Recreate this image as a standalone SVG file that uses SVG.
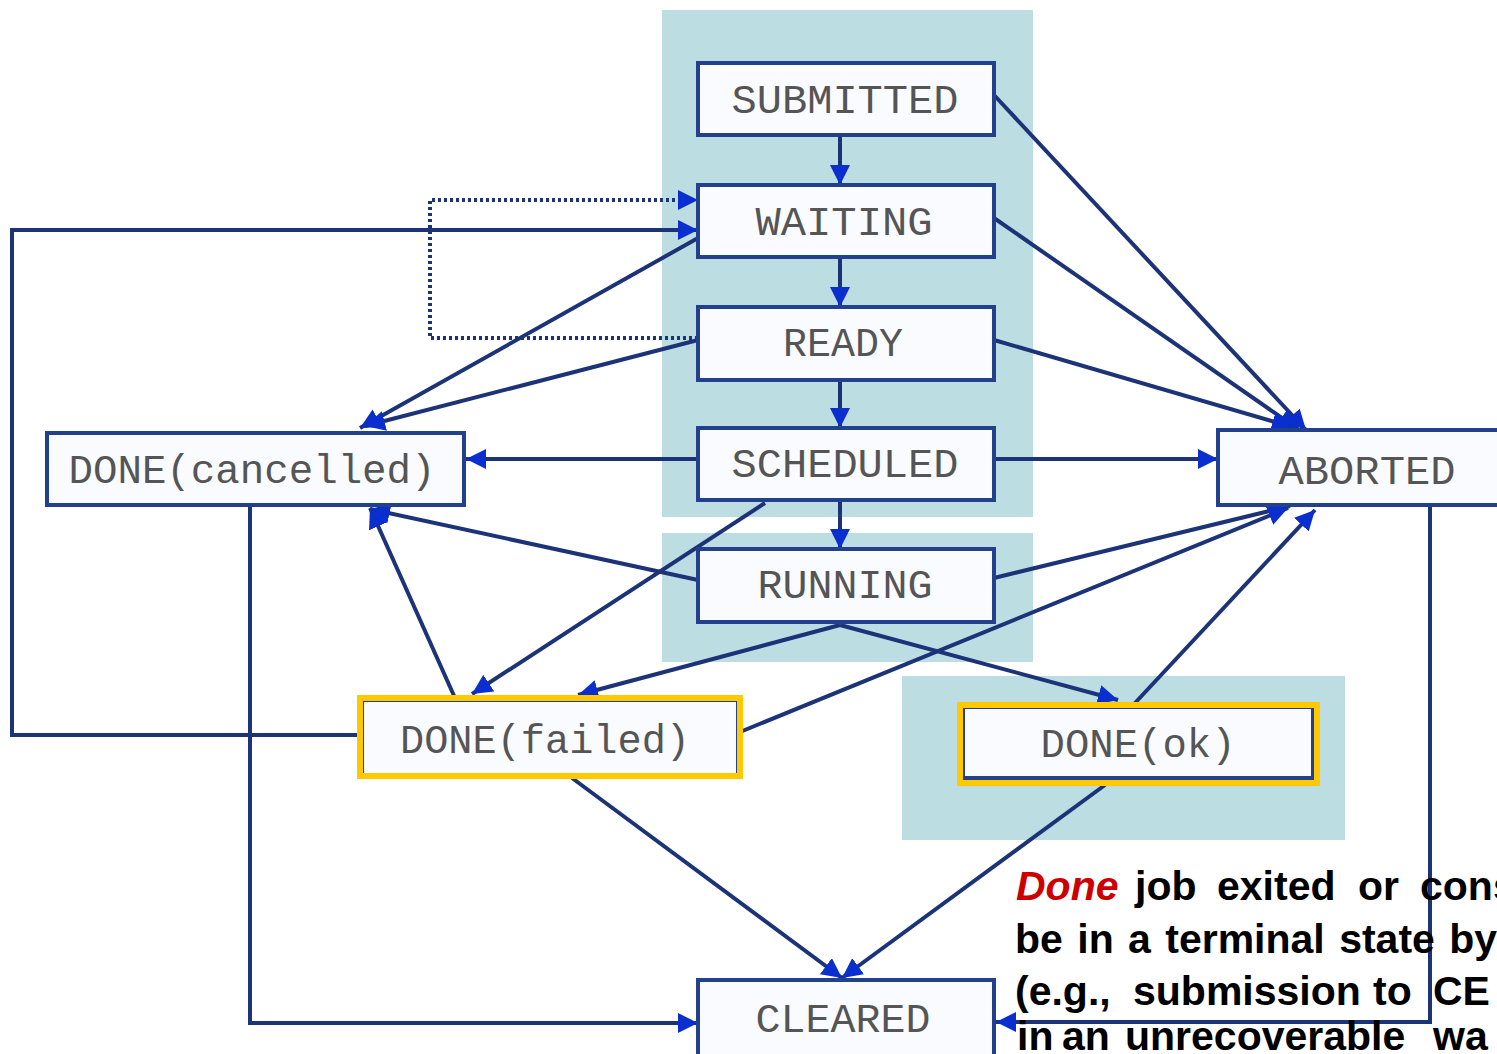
<svg xmlns="http://www.w3.org/2000/svg" width="1497" height="1054" viewBox="0 0 1497 1054">
<defs>
<style>
.panel{fill:#bcdde2}
.box{fill:#f9fbff;stroke:#22408c;stroke-width:4}
.hl{fill:none;stroke:#ffc800;stroke-width:6}
.lbl{font-family:"Liberation Mono","DejaVu Sans Mono",monospace;font-size:40px;fill:#555;text-anchor:middle}
.c{fill:none;stroke:#1c3378;stroke-width:4}
.dot{fill:none;stroke:#1c3378;stroke-width:4;stroke-dasharray:3,3}
.note{font-family:"Liberation Sans",Arial,sans-serif;font-size:41px;font-weight:bold;fill:#000}
</style>
<marker id="ah" markerUnits="userSpaceOnUse" markerWidth="24" markerHeight="22" refX="20" refY="10" orient="auto">
<path d="M0,0 L20,10 L0,20 z" fill="#0b2fcf"/>
</marker>
</defs>
<rect width="1497" height="1054" fill="#ffffff"/>
<g id="panels">
<rect class="panel" x="662" y="10" width="371" height="507"/>
<rect class="panel" x="662" y="533" width="371" height="129"/>
<rect class="panel" x="902" y="676" width="443" height="164"/>
</g>
<g id="connectors">
<line class="c" x1="840" y1="135" x2="840" y2="185" marker-end="url(#ah)"/>
<line class="c" x1="840" y1="257" x2="840" y2="307" marker-end="url(#ah)"/>
<line class="c" x1="840" y1="380" x2="840" y2="428" marker-end="url(#ah)"/>
<line class="c" x1="840" y1="500" x2="840" y2="549" marker-end="url(#ah)"/>
<line class="c" x1="698" y1="459" x2="466" y2="459" marker-end="url(#ah)"/>
<line class="c" x1="994" y1="459" x2="1218" y2="459" marker-end="url(#ah)"/>
<line class="c" x1="994" y1="95" x2="1306" y2="430" marker-end="url(#ah)"/>
<line class="c" x1="994" y1="218" x2="1298" y2="429" marker-end="url(#ah)"/>
<line class="c" x1="994" y1="340" x2="1292" y2="427" marker-end="url(#ah)"/>
<line class="c" x1="994" y1="578" x2="1290" y2="506" marker-end="url(#ah)"/>
<line class="c" x1="740" y1="732" x2="1288" y2="508" marker-end="url(#ah)"/>
<line class="c" x1="1135" y1="703" x2="1315" y2="510" marker-end="url(#ah)"/>
<line class="c" x1="698" y1="238" x2="360" y2="428" marker-end="url(#ah)"/>
<line class="c" x1="698" y1="340" x2="365" y2="426" marker-end="url(#ah)"/>
<line class="c" x1="698" y1="580" x2="370" y2="509" marker-end="url(#ah)"/>
<line class="c" x1="455" y1="698" x2="370" y2="508" marker-end="url(#ah)"/>
<line class="c" x1="765" y1="503" x2="472" y2="694" marker-end="url(#ah)"/>
<line class="c" x1="840" y1="625" x2="578" y2="695" marker-end="url(#ah)"/>
<line class="c" x1="840" y1="625" x2="1118" y2="700" marker-end="url(#ah)"/>
<path class="c" d="M360,735 H12 V230 H698" marker-end="url(#ah)"/>
<path class="dot" d="M698,338 H430 V200 H698" marker-end="url(#ah)"/>
<path class="c" d="M250,505 V1023 H698" marker-end="url(#ah)"/>
<path class="c" d="M1430,505 V1022 H996" marker-end="url(#ah)"/>
<line class="c" x1="572" y1="778" x2="842" y2="978" marker-end="url(#ah)"/>
<line class="c" x1="1105" y1="785" x2="842" y2="978" marker-end="url(#ah)"/>
</g>
<g id="submitted"><rect class="box" x="698" y="63" width="296" height="72"/><text class="lbl" x="845" y="113" textLength="227" lengthAdjust="spacingAndGlyphs">SUBMITTED</text></g>
<g id="waiting"><rect class="box" x="698" y="185" width="296" height="72"/><text class="lbl" x="844" y="235" textLength="177" lengthAdjust="spacingAndGlyphs">WAITING</text></g>
<g id="ready"><rect class="box" x="698" y="307" width="296" height="73"/><text class="lbl" x="843" y="356" textLength="120" lengthAdjust="spacingAndGlyphs">READY</text></g>
<g id="scheduled"><rect class="box" x="698" y="428" width="296" height="72"/><text class="lbl" x="845" y="477" textLength="227" lengthAdjust="spacingAndGlyphs">SCHEDULED</text></g>
<g id="running"><rect class="box" x="698" y="549" width="296" height="73"/><text class="lbl" x="845" y="598" textLength="175" lengthAdjust="spacingAndGlyphs">RUNNING</text></g>
<g id="done-cancelled"><rect class="box" x="47" y="433" width="417" height="72"/><text class="lbl" x="252" y="483" textLength="367" lengthAdjust="spacingAndGlyphs">DONE(cancelled)</text></g>
<g id="aborted"><rect class="box" x="1218" y="430" width="290" height="75"/><text class="lbl" x="1367" y="484" textLength="177" lengthAdjust="spacingAndGlyphs">ABORTED</text></g>
<g id="done-failed"><rect class="box" x="362" y="700" width="376" height="75"/><rect class="hl" x="360" y="698" width="380" height="78"/><text class="lbl" x="545" y="753" textLength="290" lengthAdjust="spacingAndGlyphs">DONE(failed)</text></g>
<g id="done-ok"><rect class="box" x="963" y="707" width="350" height="71"/><rect class="hl" x="960" y="705" width="357" height="78"/><text class="lbl" x="1138" y="757" textLength="195" lengthAdjust="spacingAndGlyphs">DONE(ok)</text></g>
<g id="cleared"><rect class="box" x="698" y="980" width="296" height="76"/><text class="lbl" x="843" y="1032" textLength="175" lengthAdjust="spacingAndGlyphs">CLEARED</text></g>
<g id="note">
<text class="note" y="900"><tspan x="1016" fill="#cc0000" font-style="italic">Done</tspan><tspan x="1135">job</tspan><tspan x="1217">exited</tspan><tspan x="1358">or</tspan><tspan x="1420">cons</tspan></text>
<text class="note" x="1015" y="953" word-spacing="3">be in a terminal state by</text>
<text class="note" y="1005"><tspan x="1015">(e.g.,</tspan><tspan x="1133">submission</tspan><tspan x="1373">to</tspan><tspan x="1433">CE</tspan></text>
<text class="note" y="1050"><tspan x="1017">in</tspan><tspan x="1062">an</tspan><tspan x="1125">unrecoverable</tspan><tspan x="1433">wa</tspan></text>
</g>
</svg>
